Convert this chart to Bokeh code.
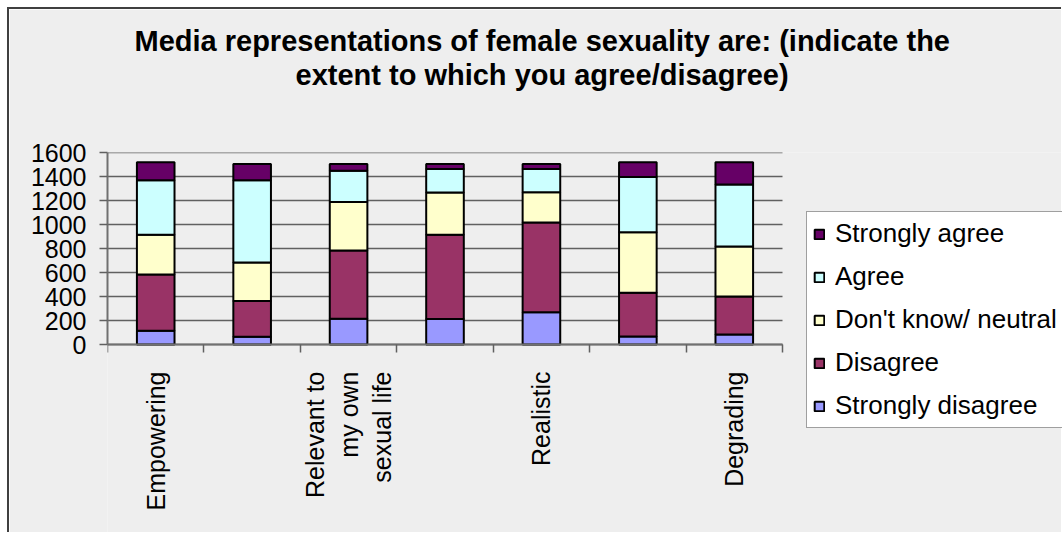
import math

from bokeh.plotting import figure
from bokeh.models import (ColumnDataSource, Range1d, FixedTicker, Legend, LegendItem, Title)
from bokeh.embed import file_html
from bokeh.resources import INLINE

# Survey responses per statement (counts of respondents)
positions = [1, 2, 3, 4, 5, 6, 7]
strongly_disagree = [115, 64, 215, 212, 268, 67, 84]
disagree = [468, 299, 568, 702, 749, 365, 317]
neutral = [331, 320, 404, 352, 251, 504, 416]
agree = [454, 685, 260, 197, 195, 460, 516]
strongly_agree = [151, 137, 58, 42, 42, 123, 186]

series = ["Strongly disagree", "Disagree", "Don't know/ neutral", "Agree", "Strongly agree"]
colors = ["#9999FF", "#993366", "#FFFFCC", "#CCFFFF", "#660066"]

# Only every other statement is labelled on the category axis
label_positions = [1, 3, 5, 7]
tick_labels = ["Empowering", "Relevant to\nmy own\nsexual life", "Realistic", "Degrading"]

y_ticks = [0, 200, 400, 600, 800, 1000, 1200, 1400, 1600]

title_lines = ["Media representations of female sexuality are: (indicate the",
               "extent to which you agree/disagree)"]

FONT = "Liberation Sans"
BG = "#EEEEEE"

# Canvas geometry (px). The plot frame runs to the right and bottom edges so the
# legend can sit beside the bars; the axes are bounded to the data region.
W, H = 1054, 525
LEFT, TOP = 98, 143
DATA_W, DATA_H = 675, 192            # pixel size of the 0.5..7.5 x 0..1600 region
frame_w, frame_h = W - LEFT, H - TOP
x_end = 0.5 + 7 * frame_w / DATA_W
y_start = 1600 - 1600 * frame_h / DATA_H

source = ColumnDataSource(data={
    "x": positions,
    "Strongly disagree": strongly_disagree,
    "Disagree": disagree,
    "Don't know/ neutral": neutral,
    "Agree": agree,
    "Strongly agree": strongly_agree,
})

p = figure(width=W, height=H, output_backend="svg", toolbar_location=None,
           x_range=Range1d(0.5, x_end), y_range=Range1d(y_start, 1600),
           min_border_left=LEFT, min_border_right=0, min_border_top=TOP,
           min_border_bottom=0)
p.styles = {"margin-left": "7px", "margin-top": "7px",
            "border-left": "2px solid #404040", "border-top": "2px solid #404040"}
p.background_fill_color = BG
p.border_fill_color = BG
p.outline_line_color = None

# Title: a spacer nearest the frame, then the two lines, each left-aligned with its
# own offset so both are centred over the chart
p.add_layout(Title(text=" ", text_font_size="1px", standoff=59), "above")
for line, off in [(title_lines[1], 188), (title_lines[0], 27)]:
    t = Title(text=line, align="left", offset=off, standoff=0,
              text_font=FONT, text_font_size="29px", text_font_style="bold",
              text_color="#000000")
    p.add_layout(t, "above")

# horizontal grid lines over the data region only
p.segment(x0=[0.5] * len(y_ticks), x1=[7.5] * len(y_ticks), y0=y_ticks, y1=y_ticks,
          line_color="#606060", line_width=1.5)

renderers = p.vbar_stack(series, x="x", width=0.39, source=source,
                         fill_color=colors, line_color="#000000", line_width=2)

# x axis at y=0: labels at bar centres, tick marks between categories
xa = p.xaxis[0]
xa.fixed_location = 0
xa.bounds = (0.5, 7.5)
xa.ticker = FixedTicker(ticks=label_positions,
                        minor_ticks=[0.5, 1.5, 2.5, 3.5, 4.5, 5.5, 6.5, 7.5])
xa.major_label_overrides = {pos: lab for pos, lab in zip(label_positions, tick_labels)}
xa.major_label_orientation = math.pi / 2
xa.major_label_text_align = "center"
xa.major_tick_out = 0
xa.major_tick_in = 0
xa.minor_tick_out = 8
xa.minor_tick_in = 0
xa.minor_tick_line_color = "#606060"
xa.minor_tick_line_width = 1.5
xa.axis_line_color = "#707070"
xa.axis_line_width = 2
xa.major_label_text_font = FONT
xa.major_label_text_font_size = "25px"
xa.major_label_text_color = "#000000"
xa.major_label_standoff = 19

ya = p.yaxis[0]
ya.bounds = (0, 1600)
ya.ticker = FixedTicker(ticks=y_ticks)
ya.minor_tick_line_color = None
ya.major_tick_out = 8
ya.major_tick_in = 0
ya.major_tick_line_color = "#606060"
ya.major_tick_line_width = 1.5
ya.axis_line_color = "#707070"
ya.axis_line_width = 2
ya.major_label_text_font = FONT
ya.major_label_text_font_size = "25px"
ya.major_label_text_color = "#000000"
ya.major_label_standoff = 13

p.xgrid.grid_line_color = None
p.ygrid.grid_line_color = None

items = [LegendItem(label=name, renderers=[r]) for name, r in zip(series, renderers)]
legend = Legend(items=list(reversed(items)), location=(699, 106))
legend.background_fill_color = "#FFFFFF"
legend.background_fill_alpha = 1.0
legend.border_line_color = "#404040"
legend.border_line_width = 1
legend.label_text_font = FONT
legend.label_text_font_size = "26px"
legend.label_text_color = "#000000"
legend.glyph_width = 12
legend.glyph_height = 12
legend.label_height = 30
legend.spacing = 12
legend.padding = 6
legend.margin = 0
legend.label_standoff = 10
p.add_layout(legend, "center")

open("out.html", "w").write(file_html(p, INLINE))
